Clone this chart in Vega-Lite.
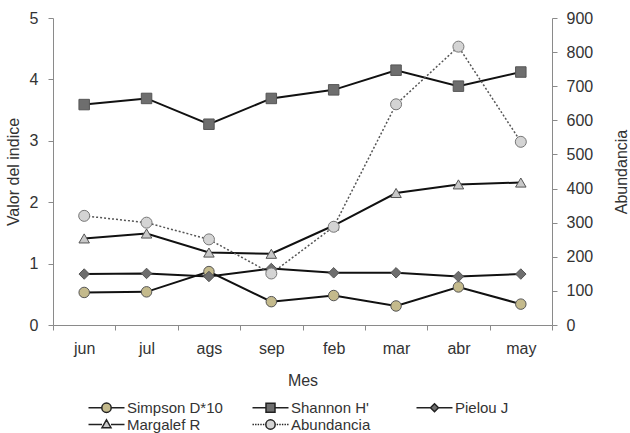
{
  "$schema": "https://vega.github.io/schema/vega-lite/v6.json",
  "width": 499,
  "height": 307,
  "autosize": {"type": "none"},
  "padding": {"left": 53, "top": 18, "right": 78, "bottom": 108},
  "background": "white",
  "config": {
    "font": "Liberation Sans",
    "view": {"stroke": null},
    "axis": {
      "domainColor": "#8a8a8a",
      "tickColor": "#8a8a8a",
      "tickSize": 5,
      "labelColor": "#333333",
      "titleColor": "#333333",
      "labelFontSize": 16,
      "titleFontSize": 16,
      "titleFontWeight": "normal",
      "grid": false
    }
  },
  "data": {
    "values": [
      {"mes": "jun", "serie": "Simpson D*10", "valor": 0.53},
      {"mes": "jul", "serie": "Simpson D*10", "valor": 0.54},
      {"mes": "ags", "serie": "Simpson D*10", "valor": 0.87},
      {"mes": "sep", "serie": "Simpson D*10", "valor": 0.38},
      {"mes": "feb", "serie": "Simpson D*10", "valor": 0.48},
      {"mes": "mar", "serie": "Simpson D*10", "valor": 0.31},
      {"mes": "abr", "serie": "Simpson D*10", "valor": 0.62},
      {"mes": "may", "serie": "Simpson D*10", "valor": 0.34},
      {"mes": "jun", "serie": "Shannon H'", "valor": 3.59},
      {"mes": "jul", "serie": "Shannon H'", "valor": 3.69},
      {"mes": "ags", "serie": "Shannon H'", "valor": 3.27},
      {"mes": "sep", "serie": "Shannon H'", "valor": 3.69},
      {"mes": "feb", "serie": "Shannon H'", "valor": 3.83},
      {"mes": "mar", "serie": "Shannon H'", "valor": 4.15},
      {"mes": "abr", "serie": "Shannon H'", "valor": 3.89},
      {"mes": "may", "serie": "Shannon H'", "valor": 4.12},
      {"mes": "jun", "serie": "Pielou J", "valor": 0.83},
      {"mes": "jul", "serie": "Pielou J", "valor": 0.84},
      {"mes": "ags", "serie": "Pielou J", "valor": 0.79},
      {"mes": "sep", "serie": "Pielou J", "valor": 0.92},
      {"mes": "feb", "serie": "Pielou J", "valor": 0.85},
      {"mes": "mar", "serie": "Pielou J", "valor": 0.85},
      {"mes": "abr", "serie": "Pielou J", "valor": 0.79},
      {"mes": "may", "serie": "Pielou J", "valor": 0.83},
      {"mes": "jun", "serie": "Margalef R", "valor": 1.41},
      {"mes": "jul", "serie": "Margalef R", "valor": 1.49},
      {"mes": "ags", "serie": "Margalef R", "valor": 1.18},
      {"mes": "sep", "serie": "Margalef R", "valor": 1.16},
      {"mes": "feb", "serie": "Margalef R", "valor": 1.62},
      {"mes": "mar", "serie": "Margalef R", "valor": 2.15},
      {"mes": "abr", "serie": "Margalef R", "valor": 2.29},
      {"mes": "may", "serie": "Margalef R", "valor": 2.32},
      {"mes": "jun", "serie": "Abundancia", "valor": 320},
      {"mes": "jul", "serie": "Abundancia", "valor": 300},
      {"mes": "ags", "serie": "Abundancia", "valor": 251},
      {"mes": "sep", "serie": "Abundancia", "valor": 151},
      {"mes": "feb", "serie": "Abundancia", "valor": 288},
      {"mes": "mar", "serie": "Abundancia", "valor": 647},
      {"mes": "abr", "serie": "Abundancia", "valor": 816},
      {"mes": "may", "serie": "Abundancia", "valor": 537}
    ]
  },
  "encoding": {
    "x": {
      "field": "mes",
      "type": "nominal",
      "sort": ["jun", "jul", "ags", "sep", "feb", "mar", "abr", "may"],
      "scale": {"type": "band", "paddingInner": 0, "paddingOuter": 0},
      "axis": {"title": "Mes", "labelAngle": 0, "tickBand": "extent", "labelPadding": 10, "titlePadding": 16}
    }
  },
  "layer": [
    {
      "transform": [{"filter": "datum.serie != 'Abundancia'"}],
      "encoding": {
        "y": {
          "field": "valor",
          "type": "quantitative",
          "scale": {"domain": [0, 5], "nice": false},
          "axis": {"title": "Valor del indice", "orient": "left", "values": [0, 1, 2, 3, 4, 5], "labelPadding": 10, "titlePadding": 8}
        }
      },
      "layer": [
        {
          "mark": {"type": "line", "color": "#111111", "strokeWidth": 2},
          "encoding": {"detail": {"field": "serie"}}
        },
        {
          "mark": {"type": "point", "filled": true, "size": 110, "stroke": "#555555", "strokeWidth": 1, "opacity": 1},
          "encoding": {
            "shape": {
              "field": "serie",
              "scale": {"domain": ["Simpson D*10", "Shannon H'", "Pielou J", "Margalef R"], "range": ["circle", "square", "diamond", "triangle-up"]},
              "legend": null
            },
            "fill": {
              "field": "serie",
              "scale": {"domain": ["Simpson D*10", "Shannon H'", "Pielou J", "Margalef R"], "range": ["#c4ba8c", "#6e6e6e", "#6e6e6e", "#c8c8c8"]},
              "legend": null
            }
          }
        }
      ]
    },
    {
      "transform": [{"filter": "datum.serie == 'Abundancia'"}],
      "encoding": {
        "y": {
          "field": "valor",
          "type": "quantitative",
          "scale": {"domain": [0, 900], "nice": false},
          "axis": {"title": "Abundancia", "orient": "right", "values": [0, 100, 200, 300, 400, 500, 600, 700, 800, 900], "labelPadding": 9, "titlePadding": 37, "titleAngle": -90}
        }
      },
      "layer": [
        {
          "mark": {"type": "line", "color": "#555555", "strokeWidth": 1.5, "strokeDash": [2, 2]},
          "encoding": {}
        },
        {
          "mark": {"type": "point", "filled": true, "size": 121, "shape": "circle", "fill": "#d4d4d4", "stroke": "#777777", "strokeWidth": 1, "opacity": 1},
          "encoding": {}
        }
      ]
    },
    {
      "transform": [{"filter": "datum.serie == 'ninguna'"}],
      "mark": {"type": "point", "filled": false, "stroke": "#222222", "strokeWidth": 1.5, "opacity": 1},
      "encoding": {
        "shape": {
          "field": "serie",
          "scale": {
            "domain": ["Simpson D*10", "Shannon H'", "Pielou J", "Margalef R", "Abundancia"],
            "range": [
              "M-1,0H1.66M3.54,0H6.2M1.66,0A0.94,0.94,0,1,1,3.54,0A0.94,0.94,0,1,1,1.66,0Z",
              "M-1,0H1.7M3.5,0H6.2M1.7,-0.9H3.5V0.9H1.7Z",
              "M-1,0H1.8M3.4,0H6.2M2.6,-0.8L3.4,0L2.6,0.8L1.8,0Z",
              "M-1,0H1.7M3.5,0H6.2M2.6,-0.95L3.5,0.65H1.7Z",
              "M-1,0h0.28m0.24,0h0.28m0.24,0h0.28m0.24,0h0.28m0.24,0h0.28M3.84,0h0.28m0.24,0h0.28m0.24,0h0.28m0.24,0h0.28m0.24,0h0.28M1.66,0A0.94,0.94,0,1,1,3.54,0A0.94,0.94,0,1,1,1.66,0Z"
            ]
          },
          "legend": {
            "title": null,
            "orient": "none",
            "legendX": 33,
            "legendY": 382,
            "direction": "horizontal",
            "columns": 3,
            "gridAlign": "all",
            "columnPadding": 26,
            "rowPadding": 0,
            "symbolSize": 100,
            "symbolStrokeWidth": 1.5,
            "labelFontSize": 15,
            "labelColor": "#333333",
            "labelOffset": 26
          }
        },
        "fill": {
          "field": "serie",
          "scale": {
            "domain": ["Simpson D*10", "Shannon H'", "Pielou J", "Margalef R", "Abundancia"],
            "range": ["#c4ba8c", "#6e6e6e", "#6e6e6e", "#c8c8c8", "#d4d4d4"]
          }
        }
      }
    }
  ],
  "resolve": {"scale": {"y": "independent", "shape": "independent", "fill": "independent"}}
}
